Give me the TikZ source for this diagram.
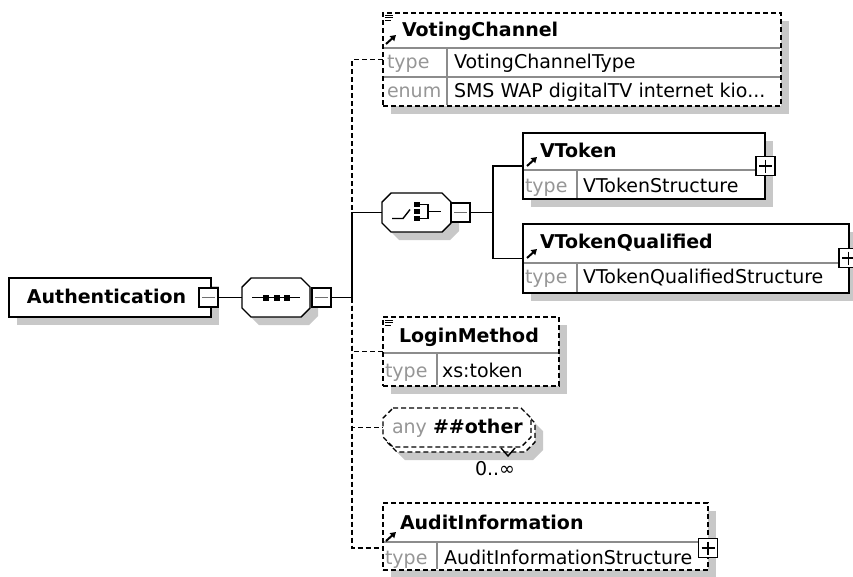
\documentclass[tikz,border=0pt]{standalone}
\usepackage{fontspec}
\setmainfont{DejaVu Sans}
\usetikzlibrary{arrows.meta}
\definecolor{shadowc}{RGB}{200,200,200}
\definecolor{divc}{RGB}{140,140,140}
\definecolor{lblc}{RGB}{150,150,150}
% octagon path: x1,y1,x2,y2,cut
\newcommand\octo[5]{(#1+#5,#2) -- (#3-#5,#2) -- (#3,#2+#5) -- (#3,#4-#5) -- (#3-#5,#4) -- (#1+#5,#4) -- (#1,#4-#5) -- (#1,#2+#5) -- cycle}
\newcommand\refarrow[2]{\draw[line width=2pt, -{Triangle[length=5.5pt,width=6.5pt]}] (#1,#2) -- ++(10,-9);}
\newcommand\simpicon[2]{\draw[line width=1pt] (#1,#2) -- ++(8,0) (#1,#2+2.7) -- ++(8,0) (#1,#2+5.4) -- ++(6,0);}
\begin{document}
\begin{tikzpicture}[x=1pt,y=-1pt,
  every node/.style={font=\fontsize{19}{22}\selectfont, inner sep=0pt, outer sep=0pt},
  box/.style={draw=black, line width=1.4pt, fill=white, anchor=north west, inner sep=0pt},
  ghost/.style={anchor=north west, inner sep=0pt},
  opt/.style={dash pattern=on 5pt off 3pt},
  conn/.style={line width=1.4pt},
  div/.style={draw=divc, line width=1.1pt},
  txt/.style={anchor=base west},
  lbl/.style={anchor=base west, text=lblc},
  ttl/.style={anchor=base west, font=\fontsize{19}{22}\selectfont\bfseries},
  expbox/.style={draw=black, line width=1.2pt, fill=white, minimum size=19pt},
  minusl/.style={draw=divc!80!black, line width=1.5pt},
  plusl/.style={draw=black, line width=1.3pt},
  shadow/.style={fill=shadowc}]
\useasboundingbox (0,0) rectangle (853,576);
\fill[white] (0,0) rectangle (853,576);

% ---------- shadows ----------
\fill[shadow] (17,286) rectangle (219,325);
\fill[shadow] \octo{250}{286}{318}{325}{9};
\fill[shadow] \octo{390}{201}{459}{240}{9};
\fill[shadow] (391,21) rectangle (789,114);
\fill[shadow] (531,141) rectangle (773,207);
\fill[shadow] (531,232) rectangle (857,301);
\fill[shadow] (391,325) rectangle (567,394);
\fill[shadow] \octo{395}{421}{543}{460}{10};
\fill[shadow] (391,511) rectangle (716,578);

% ---------- Authentication ----------
\node[box, minimum width=202pt, minimum height=39pt] (auth) at (9,278) {};
\node[ttl] at (27,303) {Authentication};

% ---------- sequence ----------
\node[ghost, minimum width=68pt, minimum height=39pt] (seq) at (242,278) {};
\draw[conn, fill=white] \octo{242}{278}{310}{317}{9};
\draw[line width=1.4pt] (252,297.5) -- (300,297.5);
\fill (263,294.5) rectangle (269,300.5);
\fill (273.5,294.5) rectangle (279.5,300.5);
\fill (284,294.5) rectangle (290,300.5);

% ---------- choice ----------
\node[ghost, minimum width=69pt, minimum height=39pt] (ch) at (382,193) {};
\draw[conn, fill=white] \octo{382}{193}{451}{232}{9};
\draw[line width=1.4pt] (392,218.5) -- (403,218.5) -- (410,209.5);
\fill (414,202) rectangle (420,207);
\fill (414,209) rectangle (420,214);
\fill (414,216) rectangle (420,221);
\draw[line width=1.4pt] (420,204.5) -- (428,204.5) -- (428,218.5) -- (420,218.5);
\draw[line width=1.4pt] (428,211.5) -- (441,211.5);

% ---------- VotingChannel ----------
\node[box, opt, minimum width=398pt, minimum height=93pt] (vc) at (383,13) {};
\draw[div] (384,48) -- (780,48);
\draw[div] (384,77) -- (780,77);
\draw[div] (447,48) -- (447,105);
\simpicon{385}{15}
\refarrow{386}{44}
\node[ttl] at (402,36) {VotingChannel};
\node[lbl] at (387,68) {type};
\node[txt] at (454,68) {VotingChannelType};
\node[lbl] at (387,97) {enum};
\node[txt] at (454,97) {SMS WAP digitalTV internet kio...};

% ---------- VToken ----------
\node[box, minimum width=242pt, minimum height=66pt] (vt) at (523,133) {};
\draw[div] (524,170) -- (764,170);
\draw[div] (577,170) -- (577,198);
\refarrow{527}{166}
\node[ttl] at (540,157) {VToken};
\node[lbl] at (525,192) {type};
\node[txt] at (583,192) {VTokenStructure};

% ---------- VTokenQualified ----------
\node[box, minimum width=326pt, minimum height=69pt] (vtq) at (523,224) {};
\draw[div] (524,263) -- (848,263);
\draw[div] (577,263) -- (577,292);
\refarrow{527}{258}
\node[ttl] at (540,248) {VTokenQualified};
\node[lbl] at (525,283) {type};
\node[txt] at (583,283) {VTokenQualifiedStructure};

% ---------- LoginMethod ----------
\node[box, opt, minimum width=176pt, minimum height=69pt] (lm) at (383,317) {};
\draw[div] (384,353) -- (558,353);
\draw[div] (437,353) -- (437,385);
\simpicon{385}{320}
\node[ttl] at (399,342) {LoginMethod};
\node[lbl] at (385,377) {type};
\node[txt] at (442,377) {xs:token};

% ---------- any ----------
\node[ghost, minimum width=148pt, minimum height=39pt] (anyf) at (383,408) {};
\draw[conn, opt, fill=white] \octo{387}{413}{535}{452}{10};
\draw[conn, opt, fill=white] \octo{383}{408}{531}{447}{10};
\draw[line width=1.4pt] (501,448) -- (508,456) -- (515,448);
\node[lbl] at (392,433) {any};
\node[ttl] at (433,433) {\#\#other};
\node[txt] (occ) at (475,475) {0..∞};

% ---------- AuditInformation ----------
\node[box, opt, minimum width=325pt, minimum height=67pt] (ai) at (383,503) {};
\draw[div] (384,542) -- (707,542);
\draw[div] (437,542) -- (437,569);
\refarrow{386}{541}
\node[ttl] at (400,529) {AuditInformation};
\node[lbl] at (385,564) {type};
\node[txt] at (444,564) {AuditInformationStructure};

% ---------- expand boxes ----------
\node[expbox] (authx) at (208.5,297.5) {};
\draw[minusl] ([xshift=3pt]authx.west) -- ([xshift=-3pt]authx.east);
\node[expbox] (seqx) at (321.5,297.5) {};
\draw[minusl] ([xshift=3pt]seqx.west) -- ([xshift=-3pt]seqx.east);
\node[expbox] (chx) at (460.5,212.5) {};
\draw[minusl] ([xshift=3pt]chx.west) -- ([xshift=-3pt]chx.east);
\node[expbox] (vtx) at (765.5,166) {};
\draw[plusl] ([xshift=3pt]vtx.west) -- ([xshift=-3pt]vtx.east) ([yshift=-3pt]vtx.north) -- ([yshift=3pt]vtx.south);
\node[expbox] (vtqx) at (848.5,258) {};
\draw[plusl] ([xshift=3pt]vtqx.west) -- ([xshift=-3pt]vtqx.east) ([yshift=-3pt]vtqx.north) -- ([yshift=3pt]vtqx.south);
\node[expbox] (aix) at (708,548) {};
\draw[plusl] ([xshift=3pt]aix.west) -- ([xshift=-3pt]aix.east) ([yshift=-3pt]aix.north) -- ([yshift=3pt]aix.south);

% ---------- connectors ----------
\coordinate (spine) at (352,297.5);
\coordinate (br) at (493,212.5);
\draw[conn, opt] (spine) |- (vc.west);
\draw[conn, opt] (spine) |- (lm.west);
\draw[conn, opt] (spine) |- (anyf.west);
\draw[conn, opt] (spine) |- ([yshift=-11.5pt]ai.west);
\draw[conn] (authx.east) -- (seq.west);
\draw[conn] (seqx.east) -- (spine) |- (ch.west);
\draw[conn] (chx.east) -- (br);
\draw[conn] (vt.west) -| (br) |- (vtq.west);
\end{tikzpicture}
\end{document}
